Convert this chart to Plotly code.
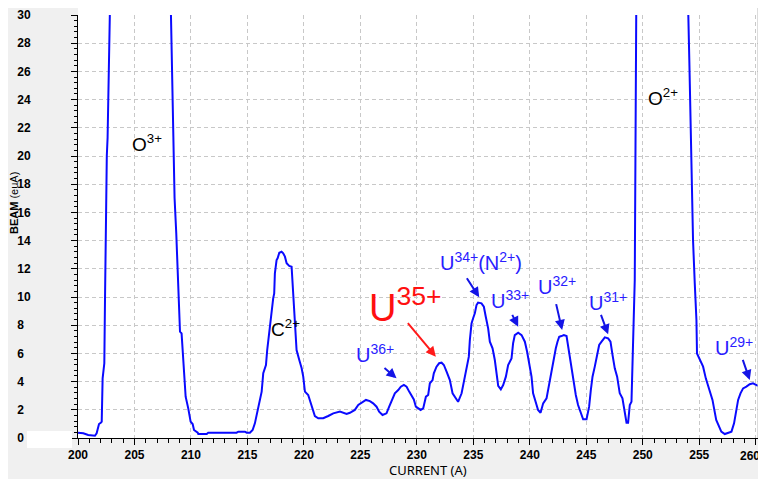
import plotly.graph_objects as go

# ---- data ----
current = [200.0, 200.47, 200.9, 201.2, 201.5, 201.65, 201.86, 202.04, 202.1, 202.18, 202.33, 202.39,
           202.45, 202.55, 202.62, 202.68, 202.8, 203.5, 207.5, 208.15, 208.23, 208.4, 208.55, 208.7,
           208.8, 208.88, 209.03, 209.17, 209.32, 209.41, 209.53, 209.76, 209.97, 210.15, 210.27, 210.6,
           210.65, 211.4, 211.53, 214.04, 214.19, 214.78, 214.93, 215.22, 215.46, 215.66, 215.87, 216.1,
           216.26, 216.4, 216.64, 216.75, 216.99, 217.14, 217.28, 217.37, 217.43, 217.58, 217.67, 217.82,
           218.02, 218.17, 218.32, 218.47, 218.7, 218.91, 219.05, 219.2, 219.35, 219.59, 219.8, 219.94,
           220.09, 220.38, 220.59, 220.77, 220.97, 221.27, 221.71, 222.15, 222.6, 223.19, 223.48, 223.78,
           224.07, 224.51, 224.81, 225.1, 225.49, 225.84, 226.13, 226.43, 226.66, 226.96, 227.31, 227.55,
           227.85, 228.05, 228.35, 228.58, 228.85, 229.09, 229.32, 229.53, 229.73, 229.91, 230.12, 230.33,
           230.56, 230.8, 231.0, 231.15, 231.39, 231.5, 231.74, 231.97, 232.19, 232.39, 232.63, 232.92,
           233.16, 233.36, 233.65, 233.96, 234.19, 234.4, 234.6, 234.69, 234.84, 234.98, 235.13, 235.28,
           235.42, 235.72, 235.93, 236.1, 236.31, 236.46, 236.7, 236.9, 237.05, 237.2, 237.43, 237.64,
           237.88, 238.08, 238.38, 238.52, 238.67, 238.97, 239.27, 239.56, 239.76, 240.0, 240.15, 240.29,
           240.5, 240.73, 240.95, 241.18, 241.48, 241.71, 241.92, 242.06, 242.3, 242.45, 242.6, 242.8,
           243.01, 243.25, 243.39, 243.54, 243.69, 243.89, 244.07, 244.27, 244.49, 244.72, 245.02, 245.25,
           245.4, 245.55, 245.75, 245.96, 246.14, 246.35, 246.64, 246.93, 247.14, 247.32, 247.52, 247.73,
           247.96, 248.2, 248.41, 248.56, 248.7, 248.85, 249.0, 249.08, 249.2, 249.29, 249.42, 249.5,
           250.0, 253.9, 253.98, 254.03, 254.12, 254.33, 254.45, 254.6, 254.75, 254.8, 255.04, 255.34,
           255.58, 255.78, 255.99, 256.17, 256.5, 256.95, 257.26, 257.85, 258.08, 258.3, 258.44, 258.65,
           258.88, 259.17, 259.47, 259.76, 260.06, 260.2]
beam = [0.38, 0.33, 0.21, 0.16, 0.16, 0.33, 0.99, 1.09, 1.16, 4.23, 5.3, 9.8,
        14.0, 20.0, 21.3, 30.0, 40.0, 60.0, 60.0, 40.0, 30.0, 22.0, 17.0, 14.5,
        12.5, 9.8, 7.54, 7.42, 5.53, 4.23, 2.93, 2.1, 1.16, 0.99, 0.57, 0.38,
        0.28, 0.28, 0.38, 0.38, 0.45, 0.45, 0.38, 0.38, 0.57, 1.04, 1.75, 2.7,
        3.29, 4.59, 5.18, 6.24, 8.13, 9.31, 9.9, 10.26, 11.68, 12.62, 12.74, 13.14,
        13.21, 13.1, 12.86, 12.39, 12.2, 12.15, 10.5, 8.13, 6.24, 5.53, 4.94, 4.35,
        3.29, 3.05, 2.46, 1.99, 1.56, 1.4, 1.4, 1.56, 1.75, 1.87, 1.79, 1.7,
        1.79, 1.99, 2.34, 2.5, 2.7, 2.62, 2.46, 2.22, 1.87, 1.63, 1.75, 2.22,
        2.74, 3.17, 3.4, 3.64, 3.76, 3.64, 3.29, 3.05, 2.74, 2.22, 2.1, 1.99,
        2.1, 2.93, 3.05, 3.88, 4.11, 4.59, 5.06, 5.3, 5.34, 5.18, 4.7, 4.11,
        3.17, 2.93, 2.57, 3.17, 4.16, 5.06, 5.77, 6.95, 8.13, 8.49, 8.84, 9.43,
        9.6, 9.55, 9.31, 8.6, 7.78, 6.83, 6.36, 5.53, 4.47, 3.69, 3.45, 3.76,
        4.35, 5.18, 5.65, 6.72, 7.3, 7.47, 7.3, 6.83, 6.12, 5.06, 4.35, 3.17,
        2.57, 1.99, 1.79, 2.46, 2.81, 3.88, 4.59, 5.3, 6.36, 6.83, 7.18, 7.23,
        7.3, 7.23, 6.48, 5.77, 5.06, 4.11, 3.05, 2.34, 1.87, 1.33, 1.33, 2.22,
        3.4, 4.35, 5.06, 5.77, 6.6, 6.83, 7.14, 7.07, 6.83, 5.89, 4.94, 4.35,
        3.17, 2.81, 1.87, 1.09, 1.09, 2.34, 2.57, 5.3, 8.84, 11.2, 30.0, 40.0,
        60.0, 60.0, 40.0, 30.0, 26.8, 18.3, 14.0, 11.0, 8.37, 6.0, 5.53, 5.06,
        4.23, 3.76, 3.17, 2.7, 1.28, 0.45, 0.28, 0.45, 1.04, 2.0, 2.7, 3.17,
        3.52, 3.64, 3.81, 3.88, 3.76, 3.7]

x_tickvals = [200, 205, 210, 215, 220, 225, 230, 235, 240, 245, 250, 255, 260]
x_ticktext = ["200", "205", "210", "215", "220", "225", "230", "235", "240", "245", "250", "255", "260."]
y_tickvals = [0, 2, 4, 6, 8, 10, 12, 14, 16, 18, 20, 22, 24, 26, 28, 30]
y_ticktext = [str(v) + "\u2007" if v < 10 else str(v) for v in y_tickvals]

# ion labels: text, x, y (centre)
black_labels = [("O<sup>3+</sup>", 206.1, 20.9), ("O<sup>2+</sup>", 251.8, 24.2), ("C<sup>2+</sup>", 218.4, 7.8)]
blue_labels = [("U<sup>36+</sup>", 226.3, 6.0), ("U<sup>34+</sup>(N<sup>2+</sup>)", 235.7, 12.5),
               ("U<sup>33+</sup>", 238.2, 9.8), ("U<sup>32+</sup>", 242.4, 10.8),
               ("U<sup>31+</sup>", 246.9, 9.7), ("U<sup>29+</sup>", 258.1, 6.5)]
red_label = ("U<sup>35+</sup>", 229.0, 9.4)
# arrows: tail x, tail y, head x, head y
blue_arrows = [(227.0, 5.06, 228.2, 4.23), (234.34, 11.44, 235.52, 9.98), (238.38, 8.84, 238.97, 7.89),
               (242.3, 9.6, 242.86, 7.66), (246.25, 8.84, 246.93, 7.35), (258.81, 5.65, 259.47, 4.11)]
red_arrow = (229.09, 8.25, 231.68, 5.77)

# page has an 8px body margin, so the figure starts at (8, 8)
OFF = 8
PL, PR, PT, PB = 78, 758, 15, 438   # plot area in page pixels
PW, PH = PR - PL, PB - PT


def px(xp):
    return (xp - PL) / PW


def py(yp):
    return (PB - yp) / PH


fig = go.Figure()
fig.add_trace(go.Scatter(x=current, y=beam, mode="lines",
                         line=dict(color="#0a0aff", width=2), showlegend=False))

tickf = dict(family="Liberation Sans", size=12, color="black", weight="bold")

ann = []
lblfont = "Liberation Sans"
for t, x, y in black_labels:
    ann.append(dict(x=x, y=y, text=t, showarrow=False, font=dict(family=lblfont, size=19, color="black")))
for t, x, y in blue_labels:
    ann.append(dict(x=x, y=y, text=t, showarrow=False, font=dict(family=lblfont, size=20, color="#2a1cff")))
ann.append(dict(x=red_label[1], y=red_label[2], text=red_label[0], showarrow=False,
                font=dict(family=lblfont, size=38, color="#ff1010")))
for ax_, ay_, hx, hy in blue_arrows:
    ann.append(dict(x=hx, y=hy, ax=ax_, ay=ay_, axref="x", ayref="y", text="", showarrow=True,
                    arrowhead=2, arrowsize=1, arrowwidth=2, arrowcolor="#1414e6", standoff=0))
ann.append(dict(x=red_arrow[2], y=red_arrow[3], ax=red_arrow[0], ay=red_arrow[1], axref="x", ayref="y",
                text="", showarrow=True, arrowhead=2, arrowsize=1, arrowwidth=2, arrowcolor="#ff1a1a", standoff=0))
# last x tick label, kept inside the page edge
ann.append(dict(xref="paper", yref="paper", x=px(765), y=py(456), xanchor="right", yanchor="middle",
                text=x_ticktext[-1], showarrow=False, font=tickf))
# axis titles
ann.append(dict(xref="paper", yref="paper", x=px(14), y=py(203), xanchor="center", yanchor="middle",
                text="<b>BEAM</b> (euA)", textangle=-90, showarrow=False,
                font=dict(family=lblfont, size=11, color="black")))
ann.append(dict(xref="paper", yref="paper", x=px(428), y=py(470), xanchor="center", yanchor="middle",
                text="CURRENT (A)", showarrow=False, font=dict(family="Noto Sans", size=13, color="black")))

shapes = [
    dict(type="rect", xref="paper", yref="paper", x0=0, x1=1, y0=1, y1=py(7),
         fillcolor="white", line=dict(width=0), layer="below"),
    dict(type="line", xref="paper", yref="paper", x0=1, x1=1, y0=0, y1=py(7),
         line=dict(color="#b8b8b8", width=1)),
    dict(type="rect", xref="paper", yref="paper", x0=px(27), x1=px(72),
         y0=py(448), y1=py(431), fillcolor="white", line=dict(width=0)),
]

fig.update_layout(
    width=766 - OFF, height=479 - OFF,
    margin=dict(l=PL - OFF, r=766 - PR, t=PT - OFF, b=479 - PB, autoexpand=False),
    paper_bgcolor="#f0f0f0", plot_bgcolor="white",
    annotations=ann, shapes=shapes, showlegend=False,
    xaxis=dict(range=[200, 260.2], tickvals=x_tickvals, ticktext=x_ticktext[:-1] + [""], tickfont=tickf,
               showgrid=True, gridcolor="#c8c8c8", griddash="4px,3px", gridwidth=1,
               showline=True, linecolor="black", linewidth=1,
               ticks="outside", ticklen=6, tickcolor="black", tickwidth=1,
               minor=dict(dtick=1, ticks="outside", ticklen=4, tickcolor="black", showgrid=False),
               zeroline=False),
    yaxis=dict(range=[0, 30], tickvals=y_tickvals, ticktext=y_ticktext, tickfont=tickf,
               showgrid=True, gridcolor="#c8c8c8", griddash="4px,3px", gridwidth=1,
               showline=True, linecolor="black", linewidth=1,
               ticks="outside", ticklen=6, tickcolor="black", tickwidth=1, ticklabelstandoff=38,
               minor=dict(dtick=0.4, ticks="outside", ticklen=3, tickcolor="black", showgrid=False),
               zeroline=False),
)
fig.write_html("out.html")
